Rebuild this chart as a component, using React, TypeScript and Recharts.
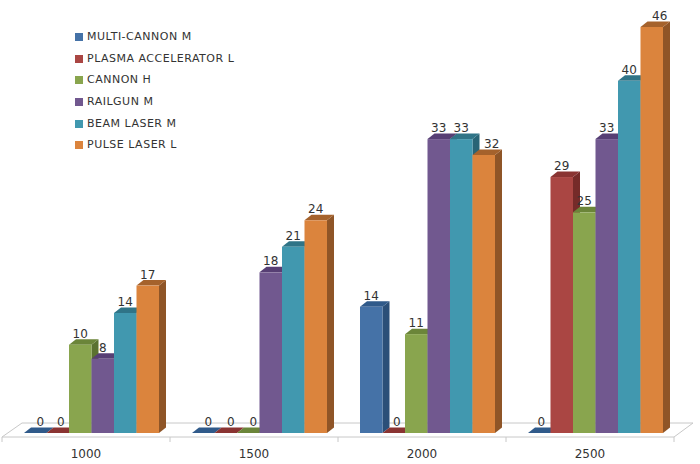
import { BarChart, Bar, XAxis, YAxis, Legend, LabelList, usePlotArea } from "recharts";

const categories = ["1000", "1500", "2000", "2500"];
const multiCannon = [0, 0, 14.3, 0];
const plasmaAccelerator = [0, 0, 0, 29];
const cannonH = [10, 0, 11.2, 25];
const railgun = [8.4, 18.2, 33.3, 33.3];
const beamLaser = [13.6, 21.1, 33.3, 39.9];
const pulseLaser = [16.7, 24.1, 31.5, 46];

const table = categories.map((category, i) => ({
  category,
  multiCannon: multiCannon[i],
  plasmaAccelerator: plasmaAccelerator[i],
  cannonH: cannonH[i],
  railgun: railgun[i],
  beamLaser: beamLaser[i],
  pulseLaser: pulseLaser[i],
}));

const SERIES = [
  { key: "multiCannon", name: "MULTI-CANNON M", front: "#4572a7", top: "#305a8a", side: "#2b4f78" },
  { key: "plasmaAccelerator", name: "PLASMA ACCELERATOR L", front: "#aa4643", top: "#8a3432", side: "#752b29" },
  { key: "cannonH", name: "CANNON H", front: "#89a54e", top: "#6b8539", side: "#5b7230" },
  { key: "railgun", name: "RAILGUN M", front: "#71588f", top: "#573f74", side: "#4b3565" },
  { key: "beamLaser", name: "BEAM LASER M", front: "#4198af", top: "#2f7487", side: "#286476" },
  { key: "pulseLaser", name: "PULSE LASER L", front: "#db843d", top: "#a5622c", side: "#8f5527" },
];

// labels the original chart pushed sideways, by series and category index
const LABEL_NUDGE: Record<string, number> = {
  "multiCannon:0": 5,
  "plasmaAccelerator:0": 3,
  "multiCannon:1": 5,
  "plasmaAccelerator:1": 5,
  "cannonH:1": 5,
  "plasmaAccelerator:2": 3,
  "multiCannon:3": 2,
  "pulseLaser:2": 8,
  "pulseLaser:3": 8,
};

const FONT = '"DejaVu Sans", sans-serif';
const DEPTH_X = 7;
const DEPTH_Y = 5.5;
// bars sit a bit right of the floor segments because of the 3D offset
const SHIFT = 5;

function Bar3D(props: any, s: (typeof SERIES)[number]) {
  const { x, y, width, height } = props;
  const r = x + width;
  const b = y + height;
  return (
    <g>
      <polygon points={`${r},${y} ${r + DEPTH_X},${y - DEPTH_Y} ${r + DEPTH_X},${b - DEPTH_Y} ${r},${b}`} fill={s.side} />
      <polygon points={`${x},${y} ${x + DEPTH_X},${y - DEPTH_Y} ${r + DEPTH_X},${y - DEPTH_Y} ${r},${y}`} fill={s.top} />
      <rect x={x} y={y} width={width} height={height} fill={s.front} />
    </g>
  );
}

function Floor() {
  const plot = usePlotArea();
  if (!plot) return null;
  const left = plot.x - SHIFT;
  const right = left + plot.width;
  const front = plot.y + plot.height + 4;
  const back = front - 14;
  const step = plot.width / categories.length;
  return (
    <g stroke="#c8c8c8" fill="none" strokeWidth={1}>
      <path d={`M${left} ${front} L${left + 20} ${back} L${right + 19} ${back} L${right} ${front} Z`} />
      {[0, 1, 2, 3, 4].map((i) => (
        <line key={i} x1={left + step * i} x2={left + step * i} y1={front} y2={front + 5} />
      ))}
    </g>
  );
}

function XTick({ x, y, payload }: any) {
  return (
    <text x={x - SHIFT} y={y + 19} textAnchor="middle" fontFamily={FONT} fontSize={12} fill="#333">
      {payload.value}
    </text>
  );
}

function LegendList({ payload }: any) {
  return (
    <div style={{ fontFamily: FONT, fontSize: 11, color: "#333", letterSpacing: 0.5 }}>
      {payload.map((p: any) => (
        <div key={p.value} style={{ height: 21.7, lineHeight: "21.7px", whiteSpace: "nowrap", display: "flex", alignItems: "center" }}>
          <span style={{ width: 8, height: 8, background: p.color, marginRight: 4, display: "inline-block" }} />
          {p.value}
        </div>
      ))}
    </div>
  );
}

function ValueLabel({ x, y, width, value, index, seriesKey }: any) {
  const nudge = LABEL_NUDGE[`${seriesKey}:${index}`] ?? 0;
  return (
    <text x={x + width / 2 + nudge} y={y - 7} textAnchor="middle" fontFamily={FONT} fontSize={12} fill="#333">
      {Math.round(value)}
    </text>
  );
}

export default function App() {
  return (
    <div style={{ position: "absolute", left: 0, top: 0, width: 700, height: 464, background: "#fff" }}>
      <BarChart
        width={700}
        height={464}
        data={table}
        margin={{ top: 27, right: 21, bottom: 0, left: 7 }}
        barCategoryGap={16.5}
        barGap={0}
        barSize={22.5}
      >
        <Floor />
        <XAxis dataKey="category" axisLine={false} tickLine={false} height={31} tick={<XTick />} tickMargin={0} />
        <YAxis hide domain={[0, 46]} />
        <Legend
          layout="vertical"
          align="center"
          verticalAlign="middle"
          itemSorter={null}
          content={<LegendList />}
          wrapperStyle={{ left: 75, top: 26, width: 260 }}
        />
        {SERIES.map((s) => (
          <Bar
            key={s.key}
            dataKey={s.key}
            name={s.name}
            fill={s.front}
            isAnimationActive={false}
            shape={(p: any) => Bar3D(p, s)}
          >
            <LabelList dataKey={s.key} content={<ValueLabel seriesKey={s.key} />} />
          </Bar>
        ))}
      </BarChart>
    </div>
  );
}
